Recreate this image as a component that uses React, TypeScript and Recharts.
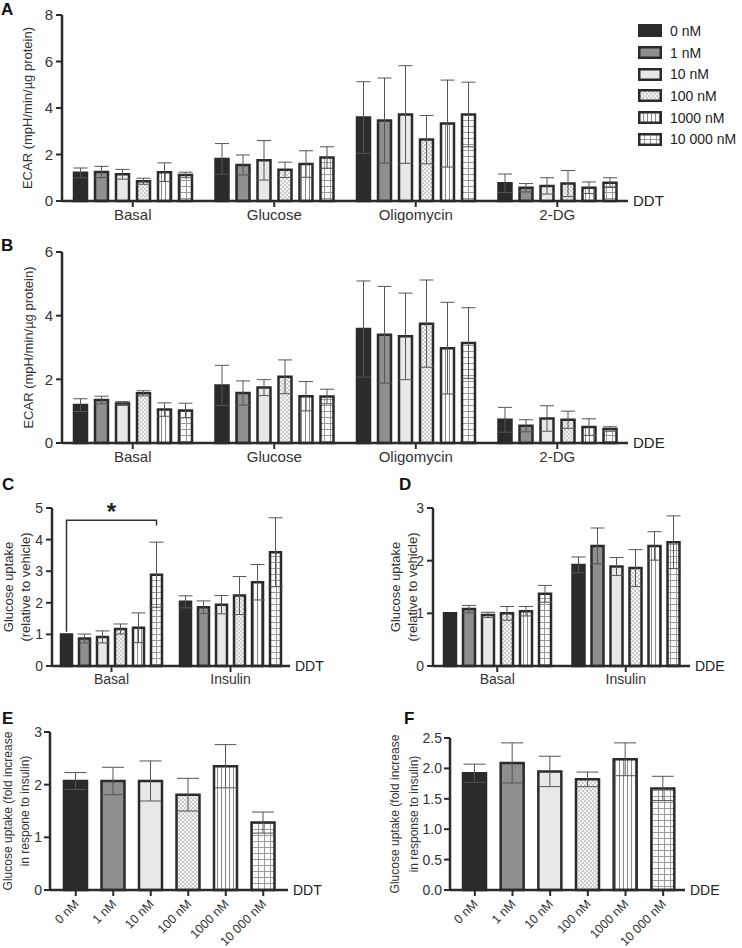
import { Bar, BarChart, Cell, ErrorBar, XAxis, YAxis } from "recharts"

// doses shared by every panel
const doses = ["0 nM", "1 nM", "10 nM", "100 nM", "1000 nM", "10 000 nM"]
const doseKeys = ["d0", "d1", "d10", "d100", "d1000", "d10000"]
const doseFills = ["#2b2b2b", "#8f8f8f", "#e8e8e8", "url(#pat-check)", "url(#pat-vert)", "url(#pat-grid)"]

// A / B: ECAR, [dose][phase]
const ecarPhases = ["Basal", "Glucose", "Oligomycin", "2-DG"]
const ecarDdtMean = [
  [1.21, 1.81, 3.59, 0.76],
  [1.25, 1.55, 3.46, 0.57],
  [1.15, 1.75, 3.72, 0.65],
  [0.85, 1.34, 2.64, 0.75],
  [1.24, 1.59, 3.33, 0.57],
  [1.12, 1.87, 3.72, 0.79],
]
const ecarDdtErr = [
  [0.21, 0.66, 1.54, 0.4],
  [0.24, 0.43, 1.83, 0.18],
  [0.21, 0.85, 2.1, 0.35],
  [0.13, 0.33, 1.04, 0.56],
  [0.4, 0.57, 1.87, 0.25],
  [0.12, 0.46, 1.39, 0.21],
]
const ecarDdeMean = [
  [1.19, 1.81, 3.58, 0.73],
  [1.35, 1.57, 3.4, 0.54],
  [1.24, 1.74, 3.35, 0.77],
  [1.56, 2.08, 3.75, 0.73],
  [1.05, 1.47, 2.98, 0.5],
  [1.02, 1.46, 3.14, 0.44],
]
const ecarDdeErr = [
  [0.2, 0.63, 1.51, 0.39],
  [0.12, 0.38, 1.52, 0.19],
  [0.06, 0.25, 1.36, 0.4],
  [0.08, 0.53, 1.37, 0.27],
  [0.21, 0.46, 1.44, 0.26],
  [0.23, 0.23, 1.11, 0.07],
]

// C / D: glucose uptake relative to vehicle, [dose][condition]
const uptakeConds = ["Basal", "Insulin"]
const uptakeDdtMean = [
  [1.0, 2.03],
  [0.87, 1.86],
  [0.92, 1.94],
  [1.17, 2.23],
  [1.21, 2.65],
  [2.89, 3.6],
]
const uptakeDdtErr = [
  [0, 0.19],
  [0.14, 0.2],
  [0.19, 0.29],
  [0.16, 0.6],
  [0.47, 0.56],
  [1.03, 1.09],
]
const uptakeDdeMean = [
  [1.0, 1.92],
  [1.08, 2.28],
  [0.97, 1.89],
  [1.0, 1.86],
  [1.04, 2.28],
  [1.37, 2.35],
]
const uptakeDdeErr = [
  [0, 0.15],
  [0.07, 0.34],
  [0.05, 0.17],
  [0.13, 0.35],
  [0.09, 0.27],
  [0.16, 0.5],
]
// significance bracket in C (data units)
const sigBracket = { top: 4.61, tick: 4.45, leftEnd: 1.08, star: 4.98 }

// E / F: fold increase in response to insulin
const foldDdtMean = [2.07, 2.07, 2.07, 1.81, 2.35, 1.28]
const foldDdtErr = [0.16, 0.26, 0.38, 0.31, 0.41, 0.2]
const foldDdeMean = [1.92, 2.09, 1.95, 1.82, 2.15, 1.67]
const foldDdeErr = [0.15, 0.33, 0.25, 0.12, 0.27, 0.2]

const ARIAL = "'Liberation Sans', Arial, sans-serif"
const INK = "#2b2b2b"

function groupRows(cats: string[], mean: number[][], err: number[][]) {
  return cats.map((cat, i) => {
    const row: Record<string, any> = { cat }
    doseKeys.forEach((k, s) => {
      row[k] = mean[s][i]
      row[k + "e"] = err[s][i]
    })
    return row
  })
}

function flatRows(mean: number[], err: number[]) {
  return doses.map((d, i) => ({ cat: d, v: mean[i], e: err[i] }))
}

const yTitle = (lines: string[], xs: number[], size: number) => (props: any) => {
  const vb = props.viewBox
  const cy = vb.y + vb.height / 2
  return (
    <g>
      {lines.map((t, i) => (
        <text
          key={i}
          x={xs[i]}
          y={cy}
          transform={`rotate(-90 ${xs[i]} ${cy})`}
          textAnchor="middle"
          dominantBaseline="central"
          fontFamily={ARIAL}
          fontSize={size}
          fill="#333"
        >
          {t}
        </text>
      ))}
    </g>
  )
}

const endTag = (text: string, size: number) => (props: any) => {
  const vb = props.viewBox
  return (
    <text x={vb.x + vb.width + 5} y={vb.y + 5} fontFamily={ARIAL} fontSize={size} fill="#222">
      {text}
    </text>
  )
}

const axisProps = (size: number) => ({
  axisLine: { stroke: INK, strokeWidth: 2.5 },
  tickLine: { stroke: INK, strokeWidth: 2 },
  tickSize: 6,
  tick: { fill: "#333", fontSize: size, fontFamily: ARIAL },
})

function RotTick(props: any) {
  const { x, y, payload } = props
  const ax = x + 1
  const ay = y + 4
  return (
    <text
      x={ax}
      y={ay}
      transform={`rotate(-45 ${ax} ${ay})`}
      textAnchor="end"
      dominantBaseline="central"
      fontFamily={ARIAL}
      fontSize={12.5}
      fill="#333"
    >
      {payload.value}
    </text>
  )
}

function GroupedChart(p: {
  rows: any[]
  width: number
  height: number
  margin: any
  yWidth: number
  xHeight: number
  domain: [number, number]
  ticks: number[]
  barSize: number
  barGap: number
  fontSize: number
  tag: string
  title: (props: any) => any
  bracket?: boolean
}) {
  const bracketLabel = (lp: any) => {
    if (lp.index !== 0) return null
    const { x, y, width, height, value } = lp
    const ppu = height / value
    const base = y + height
    const yOf = (v: number) => base - v * ppu
    const rx = x + width / 2
    const lx = rx - 5 * (width + p.barGap)
    return (
      <g>
        <path
          d={`M${lx} ${yOf(sigBracket.leftEnd)}V${yOf(sigBracket.top)}H${rx}V${yOf(sigBracket.tick)}`}
          fill="none"
          stroke="#333"
          strokeWidth={1.5}
        />
        <text x={(lx + rx) / 2} y={yOf(sigBracket.star) + 11} textAnchor="middle" fontSize={24} fontWeight="bold" fontFamily={ARIAL} fill="#222">
          *
        </text>
      </g>
    )
  }
  return (
    <BarChart width={p.width} height={p.height} data={p.rows} margin={p.margin} barGap={p.barGap} barSize={p.barSize}>
      <XAxis dataKey="cat" {...axisProps(p.fontSize)} height={p.xHeight} tickMargin={2} label={{ content: endTag(p.tag, p.fontSize) }} />
      <YAxis
        {...axisProps(p.fontSize)}
        width={p.yWidth}
        domain={p.domain}
        ticks={p.ticks}
        interval={0}
        tickMargin={3}
        label={{ content: p.title }}
      />
      {doseKeys.map((k, s) => (
        <Bar
          key={k}
          dataKey={k}
          fill={doseFills[s]}
          stroke={INK}
          strokeWidth={2.5}
          isAnimationActive={false}
          label={p.bracket && s === 5 ? bracketLabel : undefined}
        >
          <ErrorBar dataKey={k + "e"} width={7} stroke="#555" strokeWidth={1} direction="y" />
        </Bar>
      ))}
    </BarChart>
  )
}

function FoldChart(p: {
  rows: any[]
  width: number
  height: number
  margin: any
  yWidth: number
  domain: [number, number]
  ticks: number[]
  pad: { left: number; right: number }
  tag: string
  title: (props: any) => any
  decimals: number
}) {
  return (
    <BarChart width={p.width} height={p.height} data={p.rows} margin={p.margin} barSize={23}>
      <XAxis
        dataKey="cat"
        {...axisProps(13.5)}
        height={56}
        interval={0}
        padding={p.pad}
        tick={<RotTick />}
        label={{ content: endTag(p.tag, 14) }}
      />
      <YAxis
        {...axisProps(14)}
        width={p.yWidth}
        domain={p.domain}
        ticks={p.ticks}
        interval={0}
        tickMargin={2}
        tickFormatter={(v: number) => v.toFixed(p.decimals)}
        label={{ content: p.title }}
      />
      <Bar dataKey="v" stroke={INK} strokeWidth={2.5} isAnimationActive={false}>
        {p.rows.map((_, i) => (
          <Cell key={i} fill={doseFills[i]} />
        ))}
        <ErrorBar dataKey="e" width={11} stroke="#555" strokeWidth={1} direction="y" />
      </Bar>
    </BarChart>
  )
}

const place = (left: number, top: number) => ({ position: "absolute" as const, left, top })

const panelTag = (t: string, left: number, top: number) => (
  <div style={{ ...place(left, top), fontFamily: ARIAL, fontWeight: 700, fontSize: 17, color: "#111", lineHeight: 1 }}>
    {t}
  </div>
)

export default function App() {
  return (
    <div style={{ position: "absolute", left: 0, top: 0, width: 742, height: 948, background: "#fff", overflow: "hidden" }}>
      <svg width={0} height={0} style={{ position: "absolute" }}>
        <defs>
          <pattern id="pat-check" width={4} height={4} patternUnits="userSpaceOnUse">
            <rect width={4} height={4} fill="#f3f3f3" />
            <rect width={2} height={2} fill="#cdcdcd" />
            <rect x={2} y={2} width={2} height={2} fill="#cdcdcd" />
          </pattern>
          <pattern id="pat-vert" width={4} height={4} patternUnits="userSpaceOnUse">
            <rect width={4} height={4} fill="#fbfbfb" />
            <line x1={1.5} y1={0} x2={1.5} y2={4} stroke="#8c8c8c" strokeWidth={1} />
          </pattern>
          <pattern id="pat-grid" width={6} height={6} patternUnits="userSpaceOnUse">
            <rect width={6} height={6} fill="#fbfbfb" />
            <path d="M0 0.5H6M0.5 0V6" stroke="#9a9a9a" strokeWidth={1} />
          </pattern>
        </defs>
      </svg>

      {panelTag("A", 1, 1)}
      <div style={place(0, 0)}>
        <GroupedChart
          rows={groupRows(ecarPhases, ecarDdtMean, ecarDdtErr)}
          width={742}
          height={230}
          margin={{ top: 15, right: 114, bottom: 4, left: 0 }}
          yWidth={62}
          xHeight={25}
          domain={[0, 8]}
          ticks={[0, 2, 4, 6, 8]}
          barSize={13}
          barGap={8}
          fontSize={15}
          tag="DDT"
          title={yTitle(["ECAR (mpH/min/µg protein)"], [27], 13)}
        />
      </div>
      <div style={{ ...place(638, 20), fontFamily: ARIAL, fontSize: 14, color: "#222" }}>
        {doses.map((d, i) => (
          <div key={d} style={{ display: "flex", alignItems: "center", height: 21.7 }}>
            <svg width={24} height={13} style={{ marginRight: 8 }}>
              <rect x={1.25} y={1.25} width={21.5} height={10.5} fill={doseFills[i]} stroke={INK} strokeWidth={2.5} />
            </svg>
            <span>{d}</span>
          </div>
        ))}
      </div>

      {panelTag("B", 1, 237)}
      <div style={place(0, 237)}>
        <GroupedChart
          rows={groupRows(ecarPhases, ecarDdeMean, ecarDdeErr)}
          width={742}
          height={235}
          margin={{ top: 15, right: 114, bottom: 4, left: 0 }}
          yWidth={62}
          xHeight={25}
          domain={[0, 6]}
          ticks={[0, 2, 4, 6]}
          barSize={13}
          barGap={8}
          fontSize={15}
          tag="DDE"
          title={yTitle(["ECAR (mpH/min/µg protein)"], [28], 13)}
        />
      </div>

      {panelTag("C", 2, 476)}
      <div style={place(0, 490)}>
        <GroupedChart
          rows={groupRows(uptakeConds, uptakeDdtMean, uptakeDdtErr)}
          width={370}
          height={203}
          margin={{ top: 18, right: 80, bottom: 2, left: 0 }}
          yWidth={52}
          xHeight={25}
          domain={[0, 5]}
          ticks={[0, 1, 2, 3, 4, 5]}
          barSize={11}
          barGap={7}
          fontSize={14}
          tag="DDT"
          title={yTitle(["Glucose uptake", "(relative to vehicle)"], [8, 25], 13)}
          bracket
        />
      </div>

      {panelTag("D", 399, 476)}
      <div style={place(370, 490)}>
        <GroupedChart
          rows={groupRows(uptakeConds, uptakeDdeMean, uptakeDdeErr)}
          width={372}
          height={203}
          margin={{ top: 18, right: 52, bottom: 2, left: 0 }}
          yWidth={63}
          xHeight={25}
          domain={[0, 3]}
          ticks={[0, 1, 2, 3]}
          barSize={12}
          barGap={7}
          fontSize={14}
          tag="DDE"
          title={yTitle(["Glucose uptake", "(relative to vehicle)"], [25, 42], 13)}
        />
      </div>

      {panelTag("E", 2, 710)}
      <div style={place(0, 715)}>
        <FoldChart
          rows={flatRows(foldDdtMean, foldDdtErr)}
          width={370}
          height={233}
          margin={{ top: 17, right: 82, bottom: 2, left: 0 }}
          yWidth={50}
          domain={[0, 3]}
          ticks={[0, 1, 2, 3]}
          pad={{ left: 7, right: 6 }}
          tag="DDT"
          title={yTitle(["Glucose uptake (fold increase", "in respone to insulin)"], [8, 25], 12)}
          decimals={0}
        />
      </div>

      {panelTag("F", 404, 710)}
      <div style={place(370, 718)}>
        <FoldChart
          rows={flatRows(foldDdeMean, foldDdeErr)}
          width={372}
          height={230}
          margin={{ top: 20, right: 57, bottom: 2, left: 0 }}
          yWidth={80}
          domain={[0, 2.5]}
          ticks={[0, 0.5, 1, 1.5, 2, 2.5]}
          pad={{ left: 6, right: 3 }}
          tag="DDE"
          title={yTitle(["Glucose uptake (fold increase", "in response to insulin)"], [25, 44], 12)}
          decimals={1}
        />
      </div>
    </div>
  )
}
